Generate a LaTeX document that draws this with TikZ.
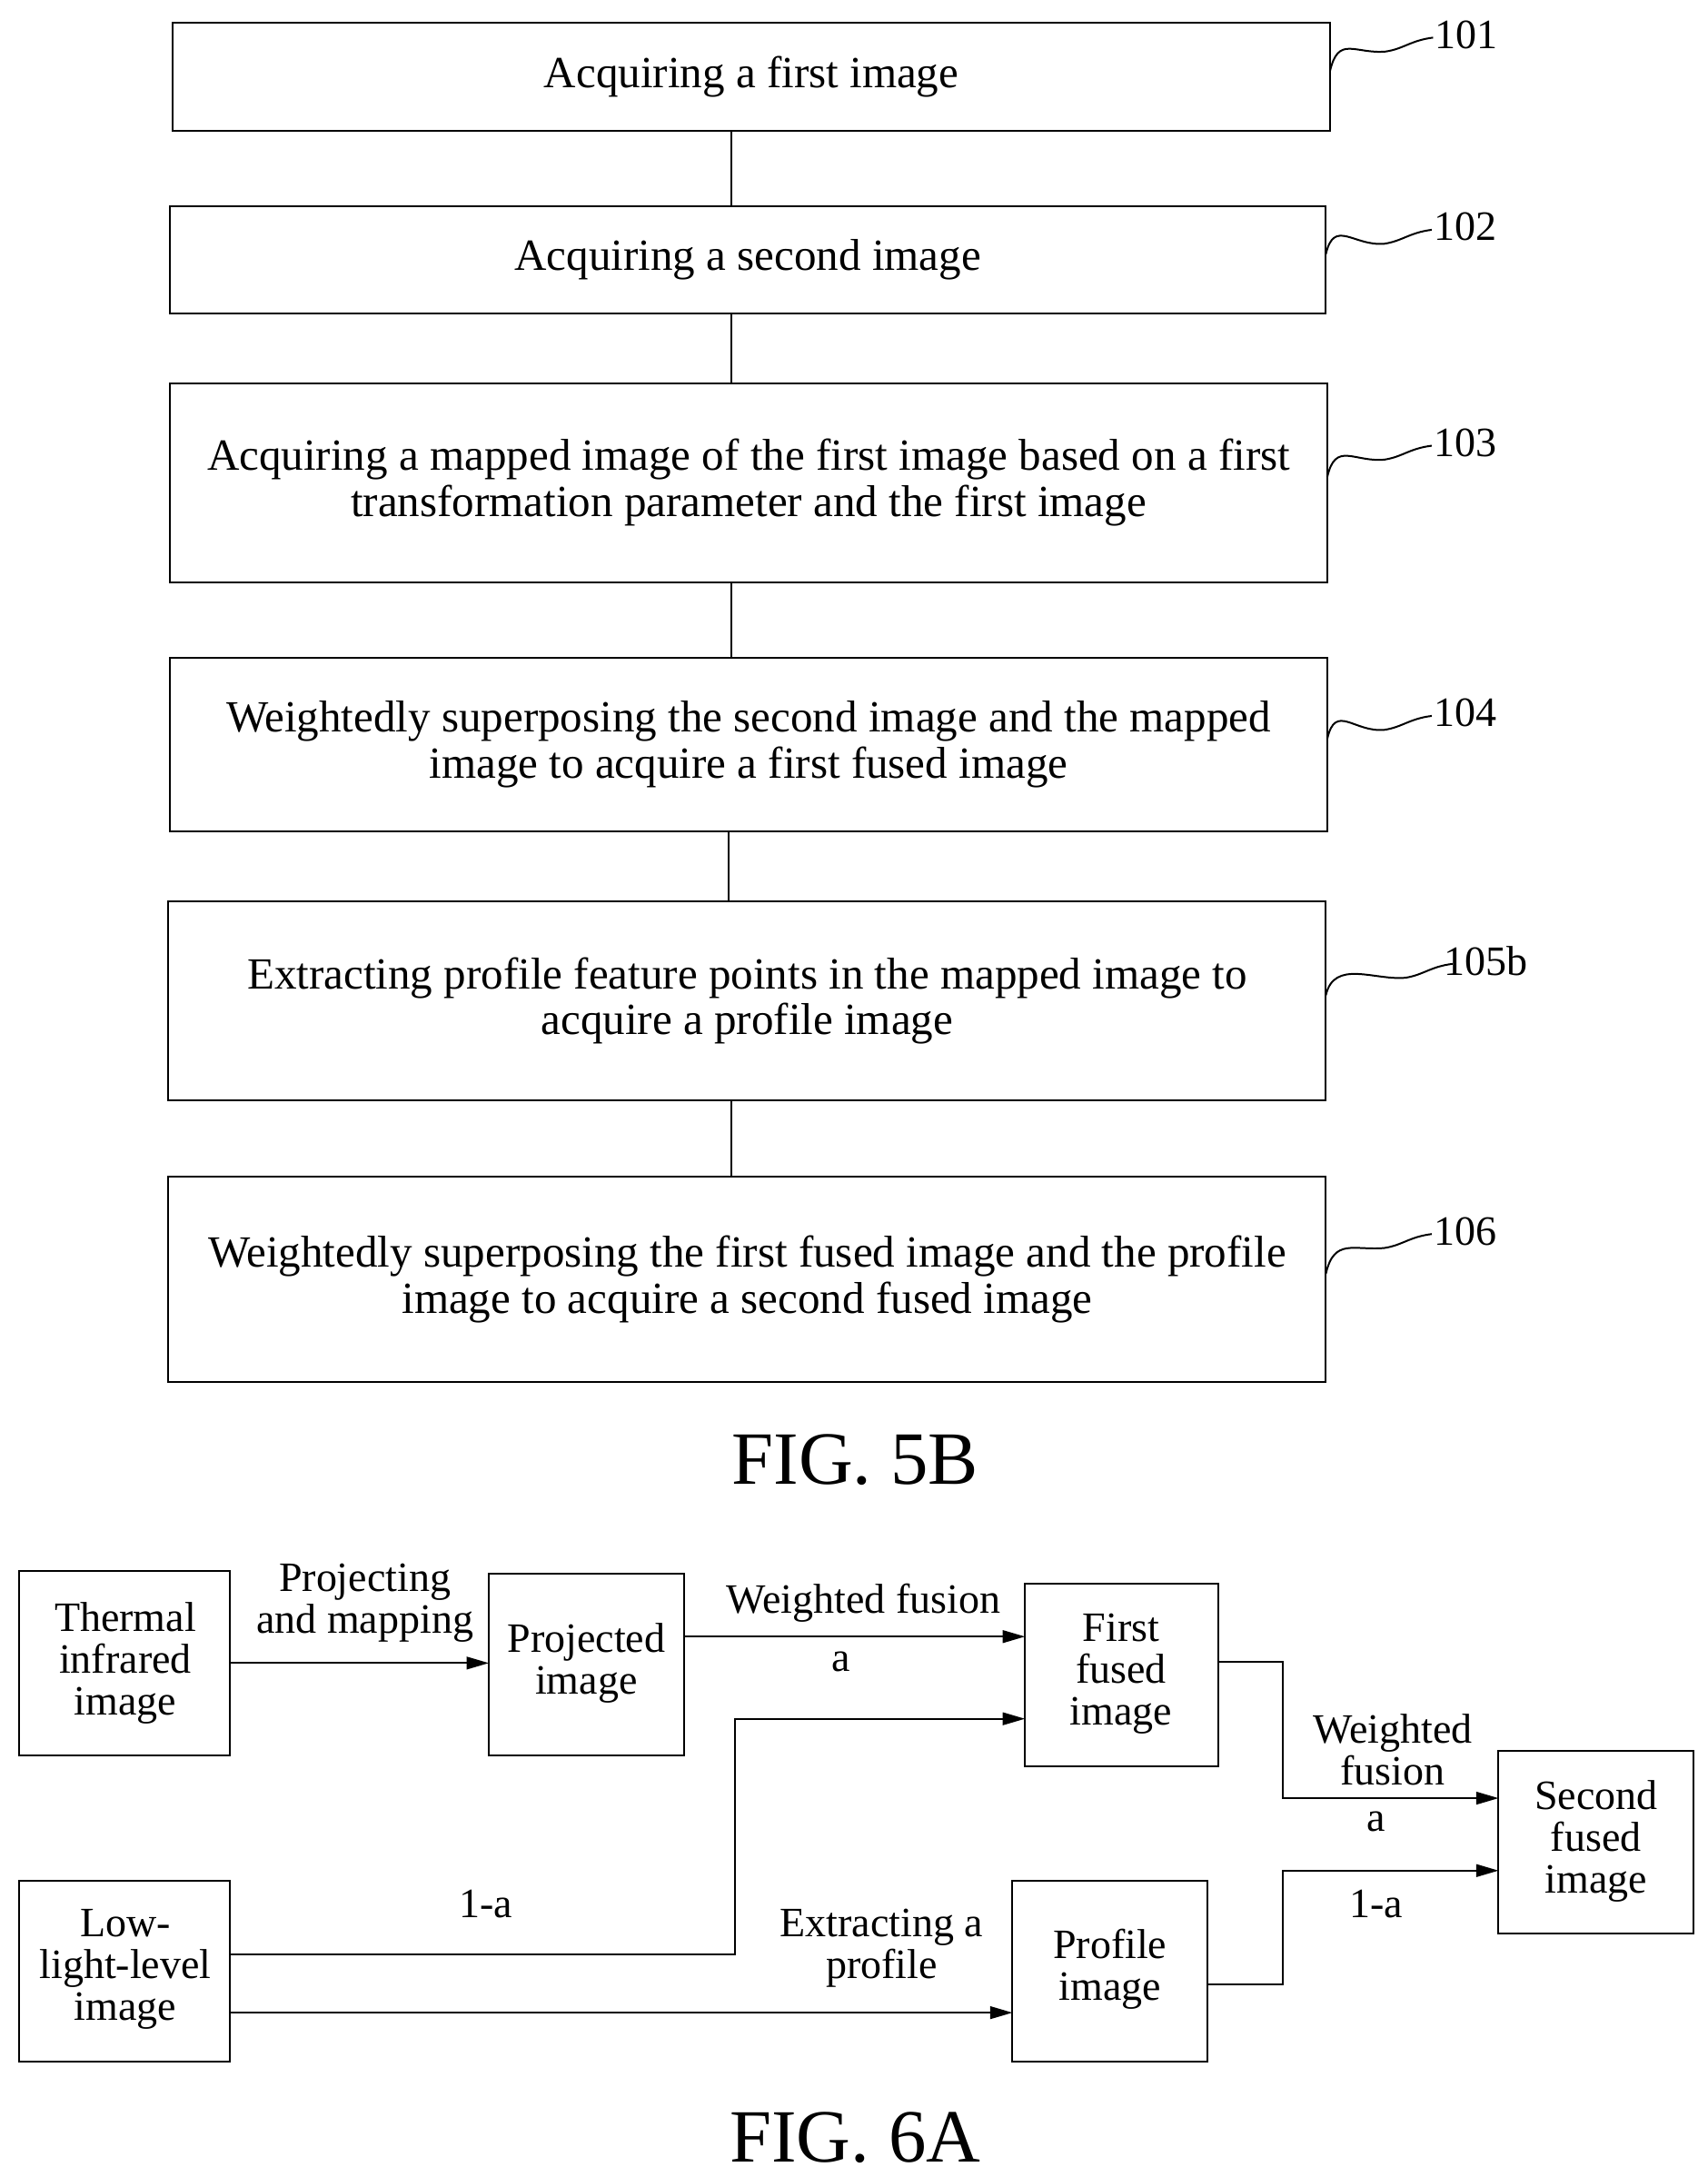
\documentclass[tikz,border=0pt]{standalone}
\usepackage{fontspec}
\setmainfont{Liberation Serif}
\usetikzlibrary{arrows.meta}
\begin{document}
\begin{tikzpicture}[x=1pt,y=-1pt,
 box/.style={draw,line width=1.3pt},
 txt/.style={font=\fontsize{30}{33}\selectfont,align=center,inner sep=0},
 btxt/.style={font=\fontsize{32}{33}\selectfont,align=center,inner sep=0},
 lab/.style={font=\fontsize{30}{33}\selectfont,inner sep=0},
 ln/.style={line width=1.3pt},
 ar/.style={line width=1.3pt,-{Triangle[length=16pt,width=9pt]}}]
\useasboundingbox (0,0) rectangle (1226,1563);
% FIG 5B
\foreach \n/\xa/\ya/\xb/\yb/\t/\l/\lx/\ly in {
 a/124/16/955/94/{Acquiring a first image}/101/1053/25,
 b/122/148/952/225/{Acquiring a second image}/102/1052/163,
 c/122/275/953/418/{Acquiring a mapped image of the first image based on a first\\transformation parameter and the first image}/103/1052/318,
 d/122/472/953/597/{Weightedly superposing the second image and the mapped\\image to acquire a first fused image}/104/1052/512,
 e/121/647/952/790/{Extracting profile feature points in the mapped image to\\acquire a profile image}/105b/1067/690,
 f/121/845/952/992/{Weightedly superposing the first fused image and the profile\\image to acquire a second fused image}/106/1052/884}{
 \draw[box] (\xa,\ya) rectangle (\xb,\yb);
 \node[btxt] (\n) at ({(\xa+\xb)/2},{(\ya+\yb)/2}) {\t};
 \node[lab] (l\n) at (\lx,\ly) {\l};
 \draw[ln] (\xb,{(\ya+\yb)/2-4}) .. controls (\xb+6,{(\ya+\yb)/2-30}) and (\lx-80,\ly+14) .. (\lx-58,\ly+12)
   .. controls (\lx-45,\ly+10) and (\lx-40,\ly+4) .. (\lx-24,\ly+2);
}
\draw[ln] (525,94)--(525,148);
\draw[ln] (525,225)--(525,275);
\draw[ln] (525,418)--(525,472);
\draw[ln] (523,597)--(523,647);
\draw[ln] (525,790)--(525,845);
\node[lab,font=\fontsize{54}{56}\selectfont] (f5) at (614,1048) {FIG. 5B};
% FIG 6A
\draw[box] (14,1128) rectangle (165,1260); \node[txt] (th) at (90,1194) {Thermal\\[-3pt]infrared\\[-3pt]image};
\draw[box] (351,1130) rectangle (491,1260); \node[txt] (pr) at (421,1194) {Projected\\[-3pt]image};
\draw[box] (736,1137) rectangle (875,1268); \node[txt] (ff) at (805,1202) {First\\[-3pt]fused\\[-3pt]image};
\draw[box] (1076,1257) rectangle (1216,1388); \node[txt] (sf) at (1146,1322) {Second\\[-3pt]fused\\[-3pt]image};
\draw[box] (14,1350) rectangle (165,1480); \node[txt] (ll) at (90,1414) {Low-\\[-3pt]light-level\\[-3pt]image};
\draw[box] (727,1350) rectangle (867,1480); \node[txt] (pi) at (797,1414) {Profile\\[-3pt]image};
\draw[ar] (165,1194)--(351,1194);
\node[txt] (t1) at (262,1151) {Projecting\\[-3pt]and mapping};
\draw[ar] (491,1175)--(736,1175);
\node[lab] (t2) at (620,1151) {Weighted fusion};
\node[lab] (t3) at (604,1193) {a};
\draw[ar] (165,1403)--(528,1403)--(528,1234)--(736,1234);
\node[lab] (t4) at (349,1367) {1-a};
\draw[ar] (165,1445)--(727,1445);
\node[txt] (t5) at (633,1399) {Extracting a\\[-3pt]profile};
\draw[ar] (875,1193)--(921,1193)--(921,1291)--(1076,1291);
\node[txt] (t6) at (1000,1256) {Weighted\\[-3pt]fusion};
\node[lab] (t7) at (988,1308) {a};
\draw[ar] (867,1425)--(921,1425)--(921,1343)--(1076,1343);
\node[lab] (t8) at (988,1367) {1-a};
\node[lab,font=\fontsize{54}{56}\selectfont] (f6) at (614,1535) {FIG. 6A};
\end{tikzpicture}
\end{document}
